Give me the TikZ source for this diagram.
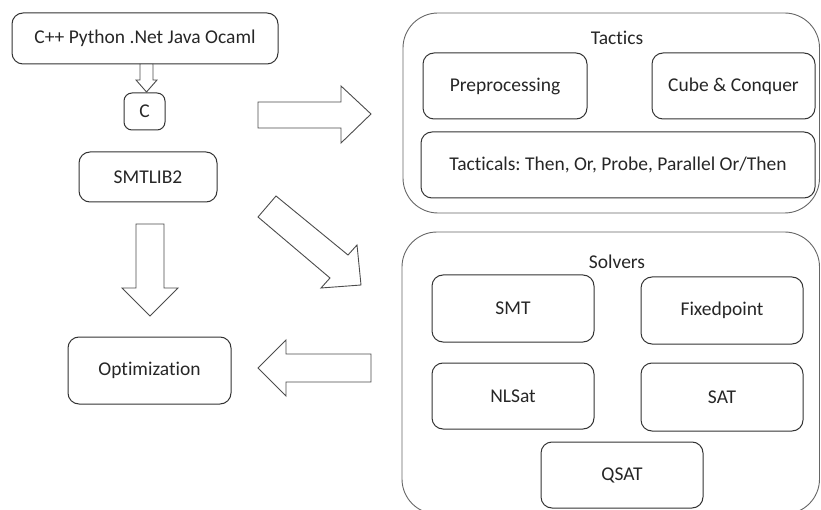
\documentclass[tikz,border=0pt]{standalone}
\usepackage{fontspec}
\setmainfont{Carlito}[Ligatures={NoCommon}]
\begin{document}
\frenchspacing
\begin{tikzpicture}[x=1pt,y=-1pt,
  box/.style={draw=black!80,line width=1pt,rounded corners=11pt,inner sep=0pt,outer sep=0pt,
    font=\fontsize{19.5}{22}\selectfont,text=black!85},
  bigbox/.style={draw=black!60,line width=0.9pt,rounded corners=35pt},
  blockarrow/.style={draw=black!70,line width=0.9pt,fill=white,line join=miter},
  title/.style={font=\fontsize{19.5}{22}\selectfont,text=black!85}]
\useasboundingbox (0,0) rectangle (821,510);
% outer containers
\draw[bigbox] (403,13) rectangle (819.5,213);
\draw[bigbox] (402,232) rectangle (819.5,514);
\node[title] (tacticsT) at (617,38) {Tactics};
\node[title] (solversT) at (617,262) {Solvers};
% left column
\node[box,minimum width=266pt,minimum height=51pt] (lang) at (145,38.5) {C++ Python .Net Java Ocaml};
\node[box,minimum width=41pt,minimum height=37pt,rounded corners=8pt] (c) at (144.5,111.5) {C};
\node[box,minimum width=138pt,minimum height=50pt] (smtlib) at (148,177) {SMTLIB2};
\node[box,minimum width=163pt,minimum height=67pt] (opt) at (149.5,370.5) {Optimization};
% tactics
\node[box,minimum width=164pt,minimum height=66pt] (pre) at (505,86) {Preprocessing};
\node[box,minimum width=163pt,minimum height=66pt] (cube) at (733.5,86) {Cube \& Conquer};
\node[box,minimum width=394pt,minimum height=66pt] (tacticals) at (618,165) {Tacticals: Then, Or, Probe, Parallel Or/Then};
% solvers
\node[box,minimum width=162pt,minimum height=67pt] (smt) at (513,308.5) {SMT};
\node[box,minimum width=162pt,minimum height=67pt] (fix) at (722,310.5) {Fixedpoint};
\node[box,minimum width=162pt,minimum height=66pt] (nlsat) at (513,396) {NLSat};
\node[box,minimum width=162pt,minimum height=68pt] (sat) at (722,397) {SAT};
\node[box,minimum width=162pt,minimum height=66pt] (qsat) at (622,475) {QSAT};
% block arrows
\draw[blockarrow] (140,64) -- (153,64) -- (153,80) -- (157,80) -- (146.5,92) -- (136,80) -- (140,80) -- cycle;
\draw[blockarrow] (258,102) -- (341,102) -- (341,86) -- (371,114) -- (341,143) -- (341,128) -- (258,128) -- cycle;
\draw[blockarrow] (136,224) -- (164,224) -- (164,288) -- (178,288) -- (150,316) -- (122,288) -- (136,288) -- cycle;
\draw[blockarrow] (371,354) -- (286,354) -- (286,340) -- (258,368) -- (286,396) -- (286,382) -- (371,382) -- cycle;
\draw[blockarrow] (276,196) -- (348,255) -- (357,245) -- (361,285) -- (321,288) -- (330,278) -- (258,217) -- cycle;
\end{tikzpicture}
\end{document}
